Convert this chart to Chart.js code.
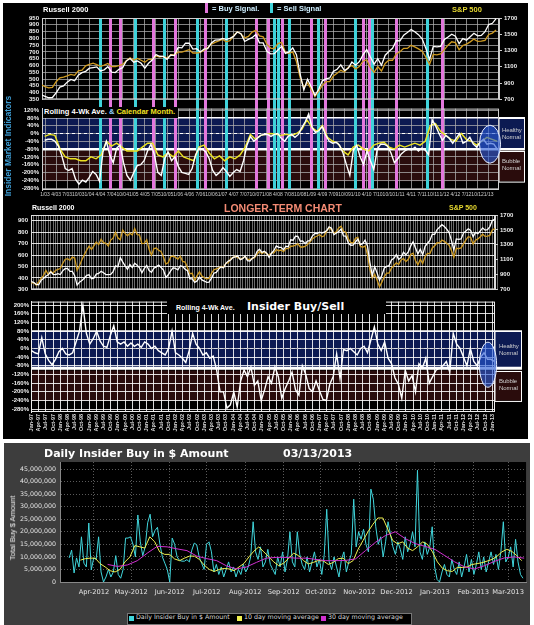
<!DOCTYPE html>
<html>
<head>
<meta charset="utf-8">
<title>Insider Buy/Sell</title>
<script src="https://cdn.jsdelivr.net/npm/chart.js@4.4.1/dist/chart.umd.min.js"></script>
<style>
  html, body { margin: 0; padding: 0; background: #fff; }
  body { position: relative; width: 534px; height: 625px; overflow: hidden; font-family: "Liberation Sans", Arial, sans-serif; }
  canvas { position: absolute; }
  .blk { position: absolute; left: 3px; top: 3px; width: 525px; height: 436px; background: #000; }
  .grey { position: absolute; left: 4px; top: 443px; width: 526px; height: 182px; background: #3d3d3d; }
  .t { position: absolute; white-space: nowrap; font-weight: bold; line-height: 1; }
  .n { position: absolute; white-space: nowrap; line-height: 1.05; color: #d8d8d8; }
  .side { position: absolute; white-space: nowrap; line-height: 1.1; color: #d0d0d0; font-size: 6px; letter-spacing: -0.1px; }
  .sw { position: absolute; }
  .dv { font-family: "DejaVu Sans", sans-serif; }
</style>
</head>
<body>
<div class="blk"></div>
<div class="grey"></div>

<canvas id="priceTop" width="534" height="106" style="left:0;top:0;width:534px;height:106px"></canvas>
<canvas id="insTop" width="534" height="100" style="left:0;top:102px;width:534px;height:100px"></canvas>
<canvas id="priceLong" width="534" height="94" style="left:0;top:202px;width:534px;height:94px"></canvas>
<canvas id="insLong" width="534" height="142" style="left:0;top:296px;width:534px;height:142px"></canvas>
<canvas id="daily" width="526" height="181" style="left:4px;top:443px;width:526px;height:181px"></canvas>

<!-- top panel headings -->
<div class="t" style="left:43px;top:6px;font-size:7.5px;color:#fff">Russell 2000</div>
<div class="sw" style="left:205px;top:3px;width:3px;height:10px;background:#e377dd"></div>
<div class="t" style="left:212px;top:5px;font-size:7.5px;color:#cdeeff">= Buy Signal.</div>
<div class="sw" style="left:270px;top:3px;width:3px;height:10px;background:#3fd2da"></div>
<div class="t" style="left:277px;top:5px;font-size:7.5px;color:#cdeeff">= Sell Signal</div>
<div class="t" style="left:452px;top:6px;font-size:7.5px;color:#e6d830">S&amp;P 500</div>
<div class="t" style="left:8px;top:146px;font-size:8.5px;color:#3f9fd6;transform:translate(-50%,-50%) rotate(-90deg)">Insider Market Indicators</div>
<div class="t" style="left:43px;top:107px;background:#000;padding:1px 3px 2px 1px;font-size:7.5px;color:#fff">Rolling 4-Wk Ave. <span style="color:#8fd0ff">&amp;</span> <span style="color:#f0e020">Calendar Month.</span></div>
<div class="side" style="left:502px;top:127px">Healthy<br>Normal</div>
<div class="side" style="left:502px;top:158px">Bubble<br>Normal</div>

<!-- longer-term panel headings -->
<div class="t" style="left:32px;top:204px;font-size:7px;color:#fff">Russell 2000</div>
<div class="t" style="left:224px;top:203px;font-size:10.5px;color:#f48b74">LONGER-TERM CHART</div>
<div class="t" style="left:449px;top:204px;font-size:7px;color:#e6d830">S&amp;P 500</div>
<div class="t" style="left:167px;top:300px;width:219px;height:14px;background:#000"></div>
<div class="t" style="left:176px;top:304px;font-size:7px;color:#fff">Rolling 4-Wk Ave.</div>
<div class="t dv" style="left:247px;top:301px;font-size:11px;color:#fff">Insider Buy/Sell</div>
<div class="side" style="left:499px;top:343px">Healthy<br>Normal</div>
<div class="side" style="left:499px;top:378px">Bubble<br>Normal</div>

<!-- daily panel headings -->
<div class="t dv" style="left:44px;top:448px;font-size:11px;color:#fff">Daily Insider Buy in $ Amount</div>
<div class="t dv" style="left:283px;top:448px;font-size:11px;color:#fff">03/13/2013</div>
<div class="n" style="left:13px;top:528px;font-size:7.5px;color:#eee;transform:translate(-50%,-50%) rotate(-90deg)">Total Buy $ Amount</div>
<div style="position:absolute;left:127px;top:613px;width:283px;height:10px;background:#000;border:1px solid #777"></div>
<div class="sw" style="left:129px;top:616px;width:5px;height:5px;background:#40d6dc"></div>
<div class="n dv" style="left:136px;top:614px;font-size:6.3px">Daily Insider Buy in $ Amount</div>
<div class="sw" style="left:237px;top:616px;width:5px;height:5px;background:#f0f050"></div>
<div class="n dv" style="left:244px;top:614px;font-size:6.3px">10 day moving average</div>
<div class="sw" style="left:321px;top:616px;width:5px;height:5px;background:#d030d0"></div>
<div class="n dv" style="left:328px;top:614px;font-size:6.3px">30 day moving average</div>

<script>
// ---- index levels, monthly, Jan 1997 .. Mar 2013 ----
const russell = [
  369, 360, 343, 340, 379, 396, 415, 427, 453, 432, 429, 437,
  430, 462, 481, 483, 457, 457, 420, 338, 363, 378, 398, 422,
  427, 393, 398, 434, 440, 458, 445, 429, 429, 431, 456, 505,
  497, 577, 540, 506, 476, 518, 491, 528, 512, 489, 445, 484,
  509, 464, 450, 485, 497, 513, 491, 469, 404, 428, 462, 489,
  483, 470, 507, 499, 476, 463, 393, 392, 362, 374, 407, 383,
  373, 362, 364, 398, 441, 449, 477, 497, 487, 528, 547, 557,
  580, 585, 590, 560, 568, 591, 551, 548, 572, 584, 633, 651,
  624, 634, 616, 580, 616, 640, 680, 668, 667, 646, 677, 673,
  733, 730, 765, 764, 721, 724, 700, 721, 725, 766, 787, 788,
  800, 793, 800, 814, 847, 834, 777, 792, 805, 828, 767, 766,
  705, 686, 687, 714, 741, 689, 700, 730, 680, 537, 420, 499,
  443, 380, 423, 487, 501, 508, 557, 572, 604, 562, 579, 625,
  602, 628, 679, 717, 662, 610, 650, 602, 676, 703, 727, 783,
  781, 823, 843, 865, 849, 827, 797, 726, 644, 741, 737, 741,
  792, 810, 830, 816, 761, 798, 786, 812, 837, 818, 822, 849,
  902, 911, 945
];
const sp500 = [
  786, 791, 757, 801, 848, 885, 954, 899, 947, 915, 955, 970,
  980, 1049, 1102, 1112, 1091, 1134, 1121, 957, 1017, 1099, 1164, 1229,
  1280, 1238, 1286, 1335, 1302, 1373, 1329, 1320, 1283, 1363, 1389, 1469,
  1394, 1366, 1499, 1452, 1421, 1455, 1431, 1518, 1437, 1429, 1315, 1320,
  1366, 1240, 1160, 1249, 1256, 1224, 1211, 1134, 1041, 1060, 1139, 1148,
  1130, 1107, 1147, 1076, 1067, 990, 912, 916, 815, 886, 936, 880,
  856, 841, 848, 917, 964, 975, 990, 1008, 996, 1051, 1058, 1112,
  1131, 1145, 1126, 1107, 1121, 1141, 1102, 1104, 1115, 1130, 1174, 1212,
  1181, 1204, 1181, 1157, 1192, 1191, 1234, 1220, 1229, 1207, 1249, 1248,
  1280, 1281, 1295, 1311, 1270, 1270, 1277, 1304, 1336, 1378, 1401, 1418,
  1438, 1407, 1421, 1482, 1531, 1503, 1455, 1474, 1527, 1549, 1481, 1468,
  1379, 1331, 1323, 1386, 1400, 1280, 1267, 1283, 1165, 969, 850, 903,
  826, 735, 798, 873, 919, 919, 987, 1021, 1057, 1036, 1096, 1115,
  1074, 1104, 1169, 1187, 1089, 1031, 1102, 1049, 1141, 1183, 1181, 1258,
  1286, 1327, 1326, 1364, 1345, 1321, 1292, 1219, 1131, 1253, 1247, 1258,
  1312, 1366, 1408, 1398, 1310, 1362, 1379, 1407, 1441, 1412, 1416, 1426,
  1498, 1515, 1552
];

// ---- buy / sell signal dates (decimal years) ----
const buySignals = [2004.47, 2004.70, 2005.44, 2005.93, 2006.61, 2007.76, 2008.03, 2008.33,
  2009.00, 2009.32, 2010.16, 2010.31, 2010.90, 2011.94];
const sellSignals = [2004.24, 2005.03, 2005.69, 2006.43, 2007.09, 2008.17, 2008.24, 2008.51,
  2009.16, 2009.98, 2010.38, 2011.60];

// ---- insider indicator, % (top panel 2003-2013) ----
const rollingTopStart = 2002.992, rollingTopStep = 0.07728;
const rollingTop = [
  -35, -30, -30, -40, -65, -115, -180, -190, -180, -235,
  -260, -240, -250, -225, -195, -210, -245, -95, -40, -110,
  -150, -75, -60, -150, -215, -240, -200, -165, -160, -140,
  -90, -55, -110, -200, -215, -130, -95, -140, -120, -170,
  -200, -205, -210, -180, -110, -75, -80, -95, -130, -190,
  -215, -200, -175, -195, -220, -200, -185, -195, -140, -60,
  -15, -40, -25, -10, -5, -5, -15, -5, 0, -25,
  -40, -15, -5, -20, -5, 30, 60, 100, 30, 5,
  15, 35, -10, -40, -50, -45, -60, -100, -160, -215,
  -90, -60, -120, -160, -90, -140, -185, -80, -55, -55,
  -65, -100, -150, -130, -105, -90, -80, -85, -70, -90,
  -75, -85, -110, 70, 40, 0, -35, -10, -25, -50,
  -25, 0, -50, -40, -20, -55, -70, -45, -30, -55,
  -50, -55, -80
];
const monthlyTopStart = 2002.992, monthlyTopStep = 0.1159;
const monthlyTop = [
  -15, -5, -10, -80, -120, -130, -130, -140, -140, -120,
  -130, -110, -40, -65, -50, -70, -90, -90, -90, -70,
  -50, -50, -110, -120, -100, -120, -90, -120, -130, -140,
  -70, -60, -100, -130, -115, -140, -120, -130, -110, -70,
  -5, -30, -10, -5, 0, -5, -10, -5, -10, 0,
  20, 70, 30, 10, 40, -20, -40, -50, -90, -110,
  -70, -60, -80, -90, -60, -50, -45, -70, -80, -60,
  -70, -60, -50, -60, -40, 40, 50, 10, -10, -30,
  -40, 0, -30, -40, -60, -40, -20, -30, -40
];

// ---- insider indicator, % (long panel 1997-2013) ----
const rollingLongStart = 1997.0, rollingLongStep = 0.11905;
const rollingLong = [
  -10, -20, -25, 50, -25, -55, -75, -50, -15, 0,
  -25, -30, -20, 30, 80, 200, 70, 20, 45, 80,
  35, 10, 5, 60, 105, 30, 20, 30, 10, 25,
  10, 20, 5, 30, 20, 0, 10, -10, -20, -30,
  0, 80, -20, -30, -45, -65, -10, 70, 20, 0,
  -30, -20, -45, -35, -100, -200, -200, -275, -260, -200,
  -270, -150, -100, -130, -85, -170, -150, -240, -190, -130,
  -160, -85, -130, -230, -185, -150, -110, -190, -215, -80,
  -120, -185, -200, -150, -195, -235, -240, -165, -130, -25,
  -140, -5, -10, 0, -15, -30, 0, 10, -20, 40,
  100, 20, -10, 30, -45, -70, -135, -165, -230, -100,
  -150, -125, -200, -70, -90, -45, -160, -130, -100, -90,
  -80, -60, -110, 70, 20, 0, -40, -80, 0, -60,
  -80, -40, -20, -50, -50, -60
];

// ---- daily insider buying, $ millions (days from 1 Apr 2012) ----
const dailyStartDay = -20, dailyEndDay = 346;
const dailyBuy = [
  9.6, 12.7, 3.6, 9.6, 6, 18, 7.5, 6, 23.5, 4.8, 9.6, 9, 18, 4, 0, 2, 5, 2, 4, 10.5,
  3, 1.5, 5, 17.5, 17.5, 18, 15, 10, 26.7, 16, 10.5, 14, 23.6, 27, 18, 20.5, 21.8, 15, 10, 7.5,
  5, 0, 17.5, 15, 10, 8.6, 8.3, 8.3, 8.9, 8, 12.7, 15.5, 14.8, 10, 7.5,
  5, 15, 16, 12, 4, 7, 3, 6, 2, 5, 8, 4, 6, 2, 5, 3, 7, 4, 6, 10,
  24, 12, 9, 14, 6, 8, 13, 7, 5, 3, 10, 6, 12, 4, 9, 20, 8, 6, 20, 11,
  7, 5, 10, 4, 8, 12, 6, 9, 3, 11, 29, 8, 5, 10, 6, 2, 9, 12, 4, 8,
  11, 33, 14, 20, 17, 21, 15, 12, 37, 33, 22, 15, 18, 10, 16, 24, 19, 14, 11, 16,
  13, 9, 18, 12, 15, 20, 14, 44.5, 12, 9, 16, 11, 14, 22, 6, 1, 0, 4, 7, 3,
  2, 9, 5, 3, 8, 2, 6, 11, 4, 9, 3, 7, 12, 5, 10, 4, 8, 12, 7, 11,
  5, 12, 24, 8, 10, 14, 6, 17, 8, 3, 1.5
];
const ma10Start = -11, ma10Step = 4;
const ma10 = [
  8.7, 9.3, 9.5, 9.5, 7.3, 6, 4.5, 4, 5, 8, 10, 14.5, 14, 13.5, 18, 16, 12, 11, 11, 9.2,
  8.5, 9.5, 10.3, 10.3, 9, 6.7, 5, 4.2, 5, 5.4, 5.2, 4.5, 6, 7.4, 10, 12.3, 14, 12, 10, 8,
  6.5, 7.5, 9.4, 11.5, 10.5, 8.5, 7.2, 7.8, 8.6, 8.4, 7, 7.8, 9.3, 9.5, 7.3, 8.5, 13, 16.5, 20, 23,
  25.5, 25.5, 21, 16.5, 15.2, 16, 13.5, 12.5, 14, 16, 15, 12, 8, 5.5, 4.5, 4.2, 5.8, 5.8, 6, 7,
  7.3, 7.7, 8.3, 9, 10.2, 12, 13, 12.2, 10.5, 8.5
];
const ma30Start = 11, ma30Step = 8;
const ma30 = [
  7, 6.2, 6.8, 8.5, 11.5, 14.2, 14, 13.2, 12.5, 10.3, 9.3, 8.5, 6.4, 5.2, 6, 7.8, 9.5, 9.8, 9.8, 9.5,
  9.5, 9, 8.5, 8.5, 8.6, 9.2, 12.5, 15.8, 18.5, 20, 17.3, 15.3, 14.2, 13, 10.5, 8, 6, 5.2, 6.5, 8.2,
  9.6, 10, 9.5
];
const monthDays = [0, 30, 61, 91, 122, 153, 183, 214, 244, 275, 306, 334];
const monthLabels = ['Apr-2012', 'May-2012', 'Jun-2012', 'Jul-2012', 'Aug-2012', 'Sep-2012',
  'Oct-2012', 'Nov-2012', 'Dec-2012', 'Jan-2013', 'Feb-2013', 'Mar-2013'];

// ---- tick labels ----
const topQuarterLabels = [];
for (let y = 3; y <= 12; y++) ['1', '4', '7', '10'].forEach(m => topQuarterLabels.push(m + '/' + String(y).padStart(2, '0')));
topQuarterLabels.push('1/13');
const longQuarterLabels = [];
for (let y = 1997; y <= 2012; y++) ['Jan', 'Apr', 'Jul', 'Oct'].forEach(m => longQuarterLabels.push(m + '-' + String(y % 100).padStart(2, '0')));
longQuarterLabels.push('Jan-13');

// ---- helpers ----
const range = (a, b, s) => { const r = []; for (let v = a; v <= b + 1e-9; v += s) r.push(+v.toFixed(5)); return r; };
const series = (start, step, vals) => vals.map((v, i) => ({ x: start + i * step, y: v }));
const fixW = w => s => { s.width = w; };
const fixH = h => s => { s.height = h; };
const setTicks = vals => s => { s.ticks = vals.map(v => ({ value: v })); };

const monthYears = russell.map((_, i) => 1997 + i / 12);
const priceRussell = monthYears.map((x, i) => ({ x, y: russell[i] }));
const priceSP = monthYears.map((x, i) => ({ x, y: sp500[i] }));
const topQuarters = range(2003, 2013, 0.25);
const longQuarters = range(1997, 2013, 0.25);
const longMonths = range(1997, 2013.17, 1 / 12);

Chart.defaults.font.family = '"Liberation Sans", Arial, sans-serif';
Chart.defaults.color = '#ddd';
Chart.defaults.animation = false;
Chart.defaults.plugins.legend.display = false;
Chart.defaults.plugins.tooltip.enabled = false;
Chart.defaults.elements.point.radius = 0;
Chart.defaults.elements.line.tension = 0;

// backgrounds, bands, bars, ellipses
const decor = {
  id: 'decor',
  beforeDraw(chart, args, o) {
    const { ctx, chartArea: a, scales } = chart;
    ctx.save();
    if (o.plotBg) { ctx.fillStyle = o.plotBg; ctx.fillRect(a.left, a.top, a.right - a.left, a.bottom - a.top); }
    if (o.blue) {
      const y = scales.y;
      const bt = y.getPixelForValue(o.blue[0]), bb = y.getPixelForValue(o.blue[1]);
      const rt = y.getPixelForValue(o.red[0]), rb = y.getPixelForValue(o.red[1]);
      ctx.fillStyle = '#0c1a52';
      ctx.fillRect(a.left, bt, o.bandRight - a.left, bb - bt);
      ctx.fillStyle = '#2a0c0c';
      ctx.fillRect(a.left, rt, o.bandRight - a.left, rb - rt);
      ctx.strokeStyle = '#fff';
      ctx.lineWidth = 1;
      ctx.strokeRect(a.right, Math.round(bt) + 0.5, o.bandRight - a.right - 0.5, bb - bt);
      ctx.strokeRect(a.right, Math.round(rt) + 0.5, o.bandRight - a.right - 0.5, rb - rt);
    }
    ctx.restore();
  },
  beforeDatasetsDraw(chart, args, o) {
    const { ctx, chartArea: a, scales } = chart;
    ctx.save();
    if (o.blue) {
      const y = scales.y;
      ctx.strokeStyle = '#fff';
      ctx.lineWidth = 1.5;
      ctx.beginPath();
      ctx.moveTo(a.left, y.getPixelForValue(o.blue[0]));
      ctx.lineTo(o.bandRight, y.getPixelForValue(o.blue[0]));
      ctx.stroke();
      ctx.lineWidth = o.thick;
      ctx.beginPath();
      ctx.moveTo(a.left, y.getPixelForValue(o.whiteLine));
      ctx.lineTo(o.bandRight, y.getPixelForValue(o.whiteLine));
      ctx.stroke();
      ctx.setLineDash([3, 3]);
      ctx.lineWidth = 1;
      ctx.strokeStyle = o.dashColor;
      ctx.beginPath();
      ctx.moveTo(a.left, Math.round(y.getPixelForValue(0)) + 0.5);
      ctx.lineTo(a.right, Math.round(y.getPixelForValue(0)) + 0.5);
      ctx.stroke();
      ctx.setLineDash([]);
    }
    if (o.signals) {
      const x = scales.x;
      const top = o.signals === 'down' ? a.top : 0;
      const bottom = o.signals === 'down' ? chart.height : a.bottom;
      const bar = (v, c) => { ctx.fillStyle = c; ctx.fillRect(Math.round(x.getPixelForValue(v)) - 1, top, 3, bottom - top); };
      buySignals.forEach(v => bar(v, '#e377dd'));
      sellSignals.forEach(v => bar(v, '#3fd2da'));
    }
    if (o.frame) {
      ctx.strokeStyle = o.frame;
      ctx.lineWidth = 1;
      ctx.strokeRect(a.left + 0.5, a.top + 0.5, a.right - a.left - 1, a.bottom - a.top - 1);
    }
    ctx.restore();
  },
  afterDatasetsDraw(chart, args, o) {
    if (!o.ellipse) return;
    const { ctx, scales: { x, y } } = chart;
    const e = o.ellipse;
    const cx = x.getPixelForValue(e.x), cy = y.getPixelForValue(e.y);
    const rx = Math.abs(x.getPixelForValue(e.x + e.rx) - cx), ry = Math.abs(y.getPixelForValue(e.y + e.ry) - cy);
    ctx.save();
    ctx.beginPath();
    ctx.ellipse(cx, cy, rx, ry, 0, 0, Math.PI * 2);
    ctx.fillStyle = 'rgba(40, 90, 215, 0.62)';
    ctx.fill();
    ctx.strokeStyle = '#e8eeff';
    ctx.lineWidth = 1;
    ctx.stroke();
    ctx.restore();
  }
};
Chart.register(decor);

const tickFont = { size: 6, weight: 'bold' };
const gridTop = 'rgba(175,175,175,0.75)';
const yTicks = (pad, cb) => ({ font: tickFont, color: '#eee', padding: pad, autoSkip: false, callback: cb });
const plain = v => String(v);
const pct = v => v + '%';

// top price chart
new Chart(document.getElementById('priceTop'), {
  type: 'line',
  data: { datasets: [
    { data: priceRussell, borderColor: '#ffffff', borderWidth: 1.3, yAxisID: 'y', order: 0 },
    { data: priceSP, borderColor: '#cf9b22', borderWidth: 1.3, yAxisID: 'y2', order: 1 }
  ] },
  options: {
    responsive: false, devicePixelRatio: 1, events: [],
    layout: { padding: { top: 18 } },
    scales: {
      x: { type: 'linear', min: 2002.932, max: 2013.232, afterBuildTicks: setTicks(topQuarters), afterFit: fixH(4),
        ticks: { display: false }, grid: { color: gridTop, drawTicks: false }, border: { display: false } },
      y: { position: 'left', min: 350, max: 950, afterBuildTicks: setTicks(range(350, 950, 50)), afterFit: fixW(42),
        ticks: yTicks(3, plain), grid: { color: gridTop, drawTicks: false }, border: { color: '#ccc' } },
      y2: { position: 'right', min: 700, max: 1700, afterBuildTicks: setTicks(range(700, 1700, 200)), afterFit: fixW(35),
        ticks: yTicks(2, plain), grid: { drawOnChartArea: false, tickLength: 3, tickColor: '#ccc' }, border: { color: '#ccc' } }
    },
    plugins: { decor: { signals: 'down', frame: '#cfcfcf' } }
  }
});

// top insider indicator
new Chart(document.getElementById('insTop'), {
  type: 'line',
  data: { datasets: [
    { data: series(rollingTopStart, rollingTopStep, rollingTop), borderColor: '#ffffff', borderWidth: 1.4, order: 0 },
    { data: series(monthlyTopStart, monthlyTopStep, monthlyTop), borderColor: '#ece422', borderWidth: 1.4, order: 1 }
  ] },
  options: {
    responsive: false, devicePixelRatio: 1, events: [],
    layout: { padding: { top: 4, right: 35 } },
    scales: {
      x: { type: 'linear', min: 2002.932, max: 2013.232, afterBuildTicks: setTicks(topQuarters), afterFit: fixH(12),
        ticks: { autoSkip: false, maxRotation: 0, font: { size: 5 }, color: '#ccc', padding: 2,
          callback: (v, i) => topQuarterLabels[i] },
        grid: { color: gridTop, drawTicks: false }, border: { display: false } },
      y: { position: 'left', min: -290, max: 127.5, afterBuildTicks: setTicks(range(-280, 120, 40)), afterFit: fixW(42),
        ticks: yTicks(3, pct), grid: { color: gridTop, drawTicks: false }, border: { color: '#ccc' } }
    },
    plugins: { decor: { blue: [80, -78], red: [-88, -245], whiteLine: -81, thick: 2.5, bandRight: 525,
      dashColor: '#ffffff', signals: 'up', frame: '#cfcfcf',
      ellipse: { x: 2013.03, y: -55, rx: 0.237, ry: 97.5 } } }
  }
});

// longer-term price chart
new Chart(document.getElementById('priceLong'), {
  type: 'line',
  data: { datasets: [
    { data: priceRussell, borderColor: '#ffffff', borderWidth: 1.3, yAxisID: 'y', order: 0 },
    { data: priceSP, borderColor: '#cf9b22', borderWidth: 1.3, yAxisID: 'y2', order: 1 }
  ] },
  options: {
    responsive: false, devicePixelRatio: 1, events: [],
    layout: { padding: { top: 13 } },
    scales: {
      x: { type: 'linear', min: 1996.983, max: 2013.094, afterBuildTicks: setTicks(longMonths), afterFit: fixH(4),
        ticks: { display: false }, grid: { color: 'rgba(255,255,255,0.42)', drawTicks: false }, border: { display: false } },
      y: { position: 'left', min: 300, max: 950, afterBuildTicks: setTicks(range(300, 900, 100)), afterFit: fixW(31),
        ticks: yTicks(3, plain), grid: { color: 'rgba(255,255,255,0.85)', drawTicks: false }, border: { color: '#ddd' } },
      y2: { position: 'right', min: 700, max: 1700, afterBuildTicks: setTicks(range(700, 1700, 200)), afterFit: fixW(39),
        ticks: yTicks(2, plain), grid: { drawOnChartArea: false, tickLength: 3, tickColor: '#ccc' }, border: { color: '#ddd' } }
    },
    plugins: { decor: { frame: '#dddddd' } }
  }
});

// longer-term insider indicator
new Chart(document.getElementById('insLong'), {
  type: 'line',
  data: { datasets: [
    { data: series(rollingLongStart, rollingLongStep, rollingLong), borderColor: '#ffffff', borderWidth: 1.4 }
  ] },
  options: {
    responsive: false, devicePixelRatio: 1, events: [],
    layout: { padding: { top: 3, right: 39 } },
    scales: {
      x: { type: 'linear', min: 1996.983, max: 2013.094, afterBuildTicks: setTicks(longQuarters), afterFit: fixH(26),
        ticks: { autoSkip: false, minRotation: 90, maxRotation: 90, font: { size: 5.5, weight: 'bold' }, color: '#ddd', padding: 2,
          callback: (v, i) => longQuarterLabels[i] },
        grid: { color: 'rgba(255,255,255,0.85)', drawTicks: false }, border: { display: false } },
      y: { position: 'left', min: -293, max: 216, afterBuildTicks: setTicks(range(-280, 200, 40)), afterFit: fixW(31),
        ticks: yTicks(2, pct), grid: { color: 'rgba(255,255,255,0.85)', drawTicks: false }, border: { color: '#eee' } }
    },
    plugins: { decor: { blue: [80, -88], red: [-102, -240], whiteLine: -91, thick: 3, bandRight: 522,
      dashColor: '#bbbbbb', frame: '#eeeeee',
      ellipse: { x: 2012.85, y: -75, rx: 0.30, ry: 104 } } }
  }
});

// daily insider buying
const dailyStep = (dailyEndDay - dailyStartDay) / (dailyBuy.length - 1);
new Chart(document.getElementById('daily'), {
  type: 'line',
  data: { datasets: [
    { data: series(dailyStartDay, dailyStep, dailyBuy), borderColor: '#40d6dc', borderWidth: 1, order: 2 },
    { data: series(ma10Start, ma10Step, ma10), borderColor: '#f0f050', borderWidth: 1, order: 1 },
    { data: series(ma30Start, ma30Step, ma30), borderColor: '#d030d0', borderWidth: 1, order: 0 }
  ] },
  options: {
    responsive: false, devicePixelRatio: 1, events: [],
    layout: { padding: { top: 19, right: 3 } },
    scales: {
      x: { type: 'linear', min: -27.4, max: 348.5, afterBuildTicks: setTicks(monthDays), afterFit: fixH(42),
        ticks: { autoSkip: false, maxRotation: 0, font: { family: '"DejaVu Sans", sans-serif', size: 6.7 }, color: '#e4e4e4', padding: 6,
          callback: (v, i) => monthLabels[i] },
        grid: { color: '#5a5a5a', drawTicks: false }, border: { color: '#888', dash: [1, 2] } },
      y: { min: 0, max: 47.8, afterBuildTicks: setTicks(range(0, 45, 5)), afterFit: fixW(56),
        ticks: { autoSkip: false, font: { family: '"DejaVu Sans", sans-serif', size: 6.3 }, color: '#e4e4e4', padding: 4,
          callback: v => (v * 1e6).toLocaleString('en-US') },
        grid: { color: '#5a5a5a', drawTicks: false }, border: { color: '#888', dash: [1, 2] } }
    },
    plugins: { decor: { plotBg: '#000000' } }
  }
});
</script>
</body>
</html>
